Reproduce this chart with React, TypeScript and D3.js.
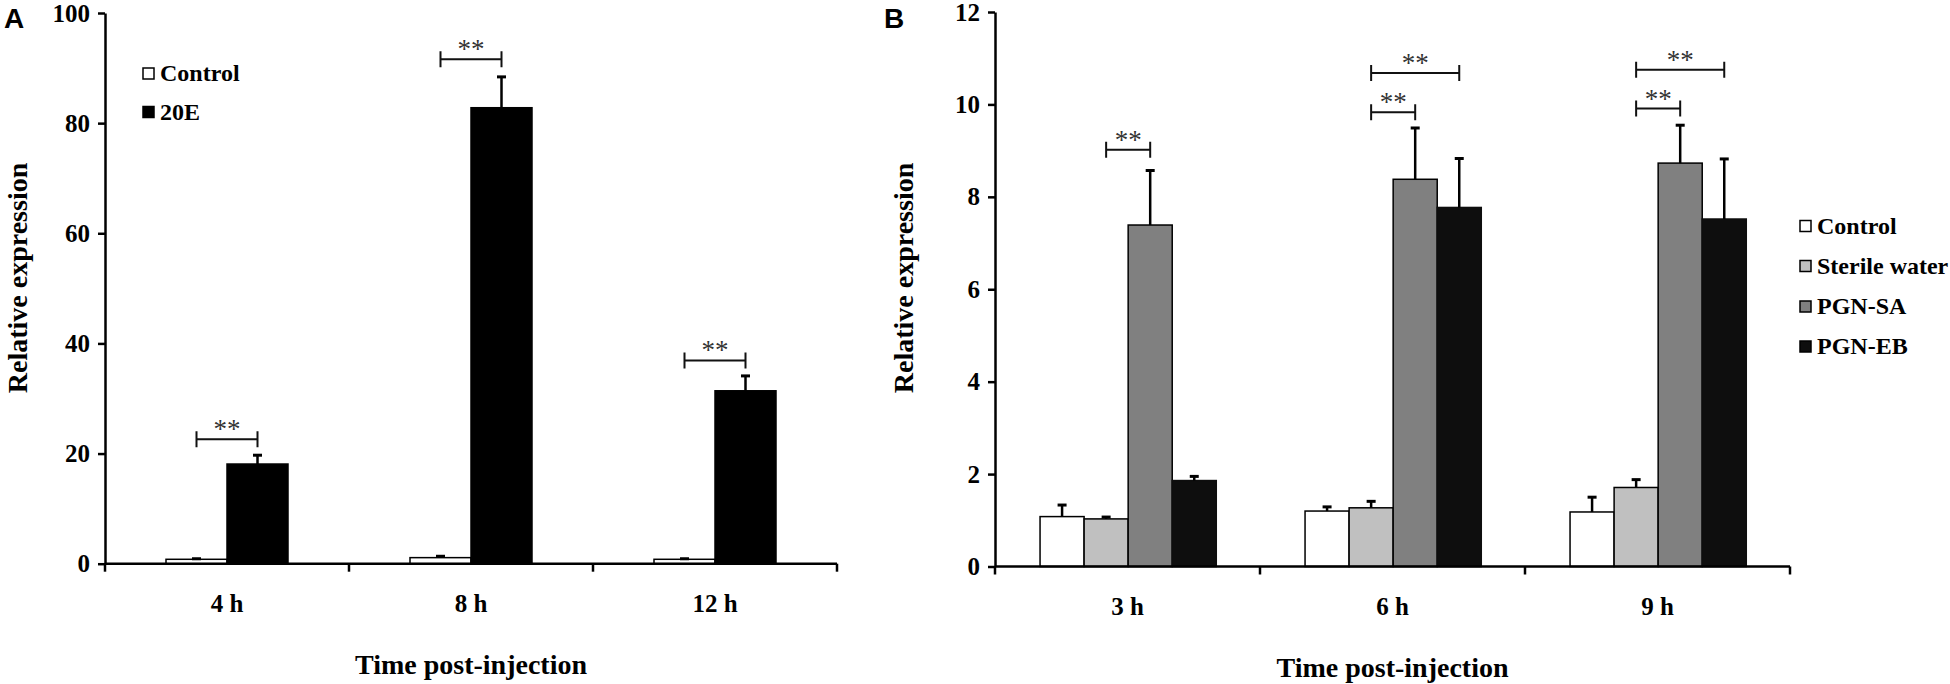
import React, { useEffect, useRef } from "react";
import * as d3 from "d3";

// Panel A: 20E treatment
const timesA = ["4 h", "8 h", "12 h"];
const seriesA = ["Control", "20E"];
const controlA = [0.8, 1.1, 0.8];
const controlErrA = [0.1, 0.25, 0.1];
const e20A = [18.1, 82.8, 31.4];
const e20ErrA = [1.6, 5.6, 2.7];
const ticksA = [0, 20, 40, 60, 80, 100];
const sigA = [
    { t: 0, from: 0, to: 1, y: 22.6 },
    { t: 1, from: 0, to: 1, y: 91.6 },
    { t: 2, from: 0, to: 1, y: 36.9 },
];

// Panel B: PGN challenge
const timesB = ["3 h", "6 h", "9 h"];
const seriesB = ["Control", "Sterile water", "PGN-SA", "PGN-EB"];
const controlB = [1.08, 1.2, 1.18];
const controlErrB = [0.25, 0.09, 0.32];
const waterB = [1.03, 1.27, 1.71];
const waterErrB = [0.04, 0.14, 0.17];
const saB = [7.39, 8.38, 8.73];
const saErrB = [1.18, 1.11, 0.82];
const ebB = [1.86, 7.77, 7.52];
const ebErrB = [0.09, 1.06, 1.3];
const ticksB = [0, 2, 4, 6, 8, 10, 12];
const sigB = [
    { t: 0, from: 1, to: 2, y: 9.02 },
    { t: 1, from: 1, to: 2, y: 9.83 },
    { t: 1, from: 1, to: 3, y: 10.68 },
    { t: 2, from: 1, to: 2, y: 9.91 },
    { t: 2, from: 1, to: 3, y: 10.75 },
];

const SERIF = "'Times New Roman', 'Liberation Serif', serif";
const SANS = "Arial, 'Liberation Sans', sans-serif";

type Panel = {
    times: string[];
    series: string[];
    values: number[][];
    errors: number[][];
    fills: string[];
    strokes: string[];
    ticks: number[];
    sig: { t: number; from: number; to: number; y: number }[];
    xRange: [number, number];
    yRange: [number, number];
    inner: [number, number];
    legendX: number;
    legendY: number[];
    letter: string;
    letterX: number;
    ylabelX: number;
};

function drawPanel(svg: d3.Selection<SVGSVGElement, unknown, null, undefined>, p: Panel) {
    const g = svg.append("g");
    const yMax = p.ticks[p.ticks.length - 1];

    const x0 = d3.scaleBand().domain(p.times).range(p.xRange).padding(0);
    const bw = x0.bandwidth();
    const x1 = d3
        .scaleBand()
        .domain(p.series)
        .range([bw * p.inner[0], bw * p.inner[1]])
        .padding(0);
    const y = d3.scaleLinear().domain([0, yMax]).range(p.yRange);

    const rows = p.times.map((t, i) => ({
        time: t,
        bars: p.series.map((s, k) => ({
            key: s,
            k,
            value: p.values[k][i],
            err: p.errors[k][i],
        })),
    }));

    // Bars
    const groups = g
        .selectAll(".grp")
        .data(rows)
        .enter()
        .append("g")
        .attr("transform", (d) => `translate(${x0(d.time)},0)`);

    groups
        .selectAll("rect")
        .data((d) => d.bars)
        .enter()
        .append("rect")
        .attr("x", (d) => x1(d.key)!)
        .attr("y", (d) => y(d.value))
        .attr("width", x1.bandwidth())
        .attr("height", (d) => y(0) - y(d.value))
        .attr("fill", (d) => p.fills[d.k])
        .attr("stroke", (d) => p.strokes[d.k])
        .attr("stroke-width", 1.5);

    // Error bars (upper half only)
    const eb = groups
        .selectAll(".err")
        .data((d) => d.bars)
        .enter()
        .append("g")
        .attr("transform", (d) => `translate(${x1(d.key)! + x1.bandwidth() / 2},0)`);
    eb.append("line")
        .attr("y1", (d) => y(d.value))
        .attr("y2", (d) => y(d.value + d.err))
        .attr("stroke", "#000")
        .attr("stroke-width", 2.5);
    eb.append("line")
        .attr("x1", -4.5)
        .attr("x2", 4.5)
        .attr("y1", (d) => y(d.value + d.err))
        .attr("y2", (d) => y(d.value + d.err))
        .attr("stroke", "#000")
        .attr("stroke-width", 3);

    // Significance brackets
    const cx = (t: number, k: number) =>
        x0(p.times[t])! + x1(p.series[k])! + x1.bandwidth() / 2;
    const sg = g.selectAll(".sig").data(p.sig).enter().append("g");
    sg.append("path")
        .attr("d", (d) => {
            const a = cx(d.t, d.from);
            const b = cx(d.t, d.to);
            const yy = y(d.y);
            return `M${a},${yy - 8}V${yy + 8}M${a},${yy}H${b}M${b},${yy - 8}V${yy + 8}`;
        })
        .attr("fill", "none")
        .attr("stroke", "#111")
        .attr("stroke-width", 2);
    sg.append("text")
        .attr("x", (d) => (cx(d.t, d.from) + cx(d.t, d.to)) / 2)
        .attr("y", (d) => y(d.y) - 1)
        .attr("text-anchor", "middle")
        .style("font-family", SERIF)
        .style("font-size", "27px")
        .style("fill", "#333")
        .text("**");

    // Y axis
    const yAxis = g
        .append("g")
        .attr("transform", `translate(${p.xRange[0]},0)`)
        .call(d3.axisLeft(y).tickValues(p.ticks).tickSize(7).tickPadding(8).tickSizeOuter(0));
    yAxis.select(".domain").attr("stroke-width", 2.5);
    yAxis.selectAll("line").attr("stroke-width", 2.5);
    yAxis
        .selectAll("text")
        .style("font-family", SERIF)
        .style("font-size", "25px")
        .style("font-weight", "bold")
        .attr("fill", "#000");

    // X axis with boundary ticks
    g.append("line")
        .attr("x1", p.xRange[0])
        .attr("x2", p.xRange[1])
        .attr("y1", y(0))
        .attr("y2", y(0))
        .attr("stroke", "#000")
        .attr("stroke-width", 2.5);
    const bounds = [...p.times.map((t) => x0(t)!), p.xRange[1]];
    g.selectAll(".xt")
        .data(bounds)
        .enter()
        .append("line")
        .attr("x1", (d) => d)
        .attr("x2", (d) => d)
        .attr("y1", y(0))
        .attr("y2", y(0) + 8)
        .attr("stroke", "#000")
        .attr("stroke-width", 2.5);
    g.selectAll(".xl")
        .data(p.times)
        .enter()
        .append("text")
        .attr("x", (d) => x0(d)! + bw / 2)
        .attr("y", y(0) + 48)
        .attr("text-anchor", "middle")
        .style("font-family", SERIF)
        .style("font-size", "25px")
        .style("font-weight", "bold")
        .text((d) => d);

    // Axis titles
    g.append("text")
        .attr("x", (p.xRange[0] + p.xRange[1]) / 2)
        .attr("y", y(0) + 110)
        .attr("text-anchor", "middle")
        .style("font-family", SERIF)
        .style("font-size", "28px")
        .style("font-weight", "bold")
        .text("Time post-injection");
    g.append("text")
        .attr("transform", `translate(${p.ylabelX},278) rotate(-90)`)
        .attr("text-anchor", "middle")
        .style("font-family", SERIF)
        .style("font-size", "28px")
        .style("font-weight", "bold")
        .text("Relative expression");

    // Panel letter
    g.append("text")
        .attr("x", p.letterX)
        .attr("y", 28)
        .style("font-family", SANS)
        .style("font-size", "28px")
        .style("font-weight", "bold")
        .text(p.letter);

    // Legend
    const lg = g
        .selectAll(".lg")
        .data(p.series)
        .enter()
        .append("g")
        .attr("transform", (_d, i) => `translate(${p.legendX},${p.legendY[i]})`);
    lg.append("rect")
        .attr("x", 0)
        .attr("y", -13)
        .attr("width", 11)
        .attr("height", 11)
        .attr("fill", (_d, i) => p.fills[i])
        .attr("stroke", "#000")
        .attr("stroke-width", 1.5);
    lg.append("text")
        .attr("x", 17)
        .attr("y", 0)
        .style("font-family", SERIF)
        .style("font-size", "24px")
        .style("font-weight", "bold")
        .text((d) => d);
}

const App: React.FC = () => {
    const svgRef = useRef<SVGSVGElement | null>(null);

    useEffect(() => {
        document.body.style.margin = "0";
        const svg = d3.select(svgRef.current!);
        svg.selectAll("*").remove();
        svg.attr("width", 1950).attr("height", 684);

        svg.append("rect").attr("width", 1950).attr("height", 684).attr("fill", "#fff");

        drawPanel(svg, {
            times: timesA,
            series: seriesA,
            values: [controlA, e20A],
            errors: [controlErrA, e20ErrA],
            fills: ["#fff", "#000"],
            strokes: ["#000", "#000"],
            ticks: ticksA,
            sig: sigA,
            xRange: [105, 837],
            yRange: [563.7, 13],
            inner: [0.25, 0.75],
            legendX: 143,
            legendY: [81, 119.5],
            letter: "A",
            letterX: 4,
            ylabelX: 27,
        });

        drawPanel(svg, {
            times: timesB,
            series: seriesB,
            values: [controlB, waterB, saB, ebB],
            errors: [controlErrB, waterErrB, saErrB, ebErrB],
            fills: ["#fff", "#c0c0c0", "#808080", "#0e0e0e"],
            strokes: ["#000", "#000", "#000", "#0e0e0e"],
            ticks: ticksB,
            sig: sigB,
            xRange: [995, 1790],
            yRange: [566.5, 12],
            inner: [0.17, 0.835],
            legendX: 1800,
            legendY: [233.5, 273.5, 314, 354],
            letter: "B",
            letterX: 884,
            ylabelX: 913,
        });
    }, []);

    return <svg ref={svgRef} style={{ display: "block" }} />;
};

export default App;
